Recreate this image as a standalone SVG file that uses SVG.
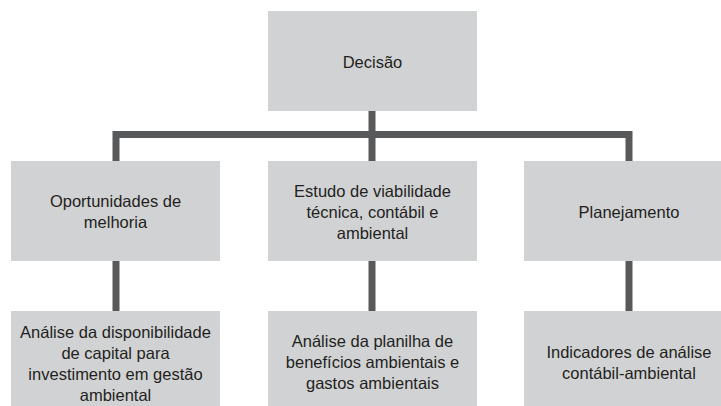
<svg xmlns="http://www.w3.org/2000/svg" width="721" height="406" viewBox="0 0 721 406">
<style>
.box{fill:#d1d2d4;}
.lbl{font-family:"Liberation Sans",Arial,sans-serif;font-size:16.5px;fill:#231f20;text-anchor:middle;}
.con{fill:none;stroke:#58595b;stroke-width:7;stroke-linejoin:miter;stroke-linecap:butt;}
</style>
<rect width="721" height="406" fill="#ffffff"/>
<g id="connectors">
<path class="con" d="M116 161 V134.5 H629 V161"/>
<path class="con" d="M372 111 V161"/>
<path class="con" d="M116 261 V311"/>
<path class="con" d="M372 261 V311"/>
<path class="con" d="M629 261 V311"/>
</g>
<g id="decisao">
<rect class="box" x="268" y="11" width="209" height="100"/>
<text class="lbl" x="372.5" y="67.5">Decisão</text>
</g>
<g id="oportunidades">
<rect class="box" x="11" y="161" width="209" height="100"/>
<text class="lbl" x="115.5" y="207">Oportunidades de</text>
<text class="lbl" x="115.5" y="228">melhoria</text>
</g>
<g id="estudo">
<rect class="box" x="268" y="161" width="209" height="100"/>
<text class="lbl" x="372.5" y="197">Estudo de viabilidade</text>
<text class="lbl" x="372.5" y="218">técnica, contábil e</text>
<text class="lbl" x="372.5" y="239">ambiental</text>
</g>
<g id="planejamento">
<rect class="box" x="524" y="161" width="210" height="100"/>
<text class="lbl" x="629" y="217.5">Planejamento</text>
</g>
<g id="analise-capital">
<rect class="box" x="11" y="311" width="209" height="100"/>
<text class="lbl" x="115.5" y="337.5">Análise da disponibilidade</text>
<text class="lbl" x="115.5" y="358.5">de capital para</text>
<text class="lbl" x="115.5" y="379.5">investimento em gestão</text>
<text class="lbl" x="115.5" y="400.5">ambiental</text>
</g>
<g id="analise-planilha">
<rect class="box" x="268" y="311" width="209" height="100"/>
<text class="lbl" x="372.5" y="347">Análise da planilha de</text>
<text class="lbl" x="372.5" y="368">benefícios ambientais e</text>
<text class="lbl" x="372.5" y="389">gastos ambientais</text>
</g>
<g id="indicadores">
<rect class="box" x="524" y="311" width="210" height="100"/>
<text class="lbl" x="629" y="357.5">Indicadores de análise</text>
<text class="lbl" x="629" y="378.5">contábil-ambiental</text>
</g>
</svg>
